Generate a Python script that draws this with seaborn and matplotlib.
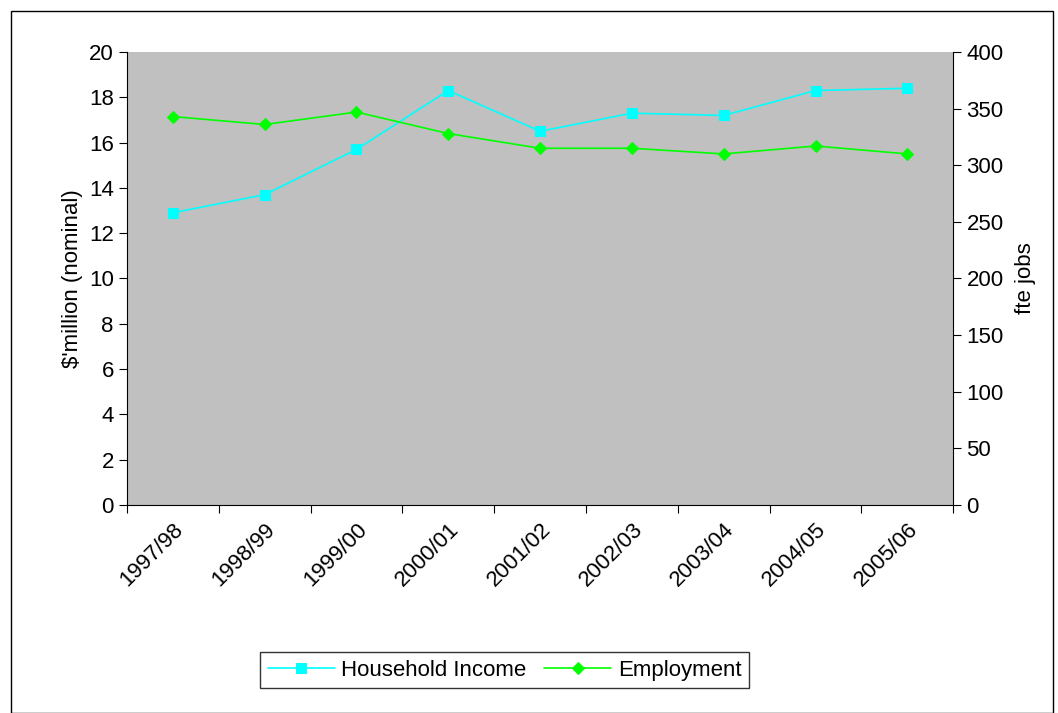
import matplotlib
matplotlib.use("Agg")
import matplotlib.pyplot as plt
import seaborn as sns
import pandas as pd

years = ["1997/98","1998/99","1999/00","2000/01","2001/02","2002/03","2003/04","2004/05","2005/06"]
income = [12.9, 13.7, 15.7, 18.3, 16.5, 17.3, 17.2, 18.3, 18.4]
employment = [343, 336, 347, 328, 315, 315, 310, 317, 310]

sns.set_style("white")
plt.rcParams['font.family'] = ['Liberation Sans', 'DejaVu Sans']
for k in ['text.color', 'axes.labelcolor', 'xtick.color', 'ytick.color']:
    plt.rcParams[k] = 'black'
FS = 16
fig = plt.figure(figsize=(10.58, 7.13), dpi=100)
ax = fig.add_axes([0.12, 0.292, 0.781, 0.635])
ax.set_facecolor("#c0c0c0")
x = list(range(len(years)))
df = pd.DataFrame({"x": x, "inc": income, "emp": employment})
sns.lineplot(data=df, x="x", y="inc", ax=ax, color="#00ffff", marker="s", markersize=7,
             markeredgecolor="#00ffff", lw=1.2, label="Household Income", legend=False)
ax2 = ax.twinx()
sns.lineplot(data=df, x="x", y="emp", ax=ax2, color="#00ff00", marker="D", markersize=6,
             markeredgecolor="#00ff00", lw=1.2, label="Employment", legend=False)
for a in (ax, ax2):
    a.set_xlim(-0.5, 8.5)
    for s in a.spines.values():
        s.set_visible(False)
ax.spines['bottom'].set_visible(True); ax.spines['left'].set_visible(True)
ax2.spines['right'].set_visible(True)
for s in ('bottom', 'left'):
    ax.spines[s].set_color('black')
ax2.spines['right'].set_color('black')
ax.set_ylim(0, 20); ax.set_yticks(range(0, 21, 2))
ax2.set_ylim(0, 400); ax2.set_yticks(range(0, 401, 50))
ax.set_xticks([i - 0.5 for i in range(10)], minor=False)
ax.set_xticklabels([])
ax.set_xticks(x, minor=True)
ax.set_xticklabels(years, minor=True, rotation=45, ha="right", rotation_mode="anchor", fontsize=FS)
ax.tick_params(axis='x', which='minor', length=0, pad=10)
ax.tick_params(axis='x', which='major', length=6, direction='out', bottom=True)
ax.tick_params(axis='y', length=6, direction='out', left=True, labelsize=FS)
ax2.tick_params(axis='y', length=6, direction='out', right=True, labelsize=FS)
ax.set_xlabel(""); ax.set_ylabel("$'million (nominal)", fontsize=FS)
ax2.set_ylabel("fte jobs", fontsize=FS, labelpad=8)
h1, l1 = ax.get_legend_handles_labels(); h2, l2 = ax2.get_legend_handles_labels()
leg = fig.legend(h1 + h2, l1 + l2, loc="center", bbox_to_anchor=(0.477, 0.06), ncol=2,
                 fontsize=FS, frameon=True, fancybox=False, edgecolor="black", handlelength=3,
                 columnspacing=0.8, handletextpad=0.3, borderpad=0.35)
leg.get_frame().set_linewidth(1)
fig.patches.append(plt.Rectangle((0.01, 0.0), 0.985, 0.985, transform=fig.transFigure,
                                 fill=False, edgecolor="black", lw=1))
fig.savefig("out.png", dpi=100)
